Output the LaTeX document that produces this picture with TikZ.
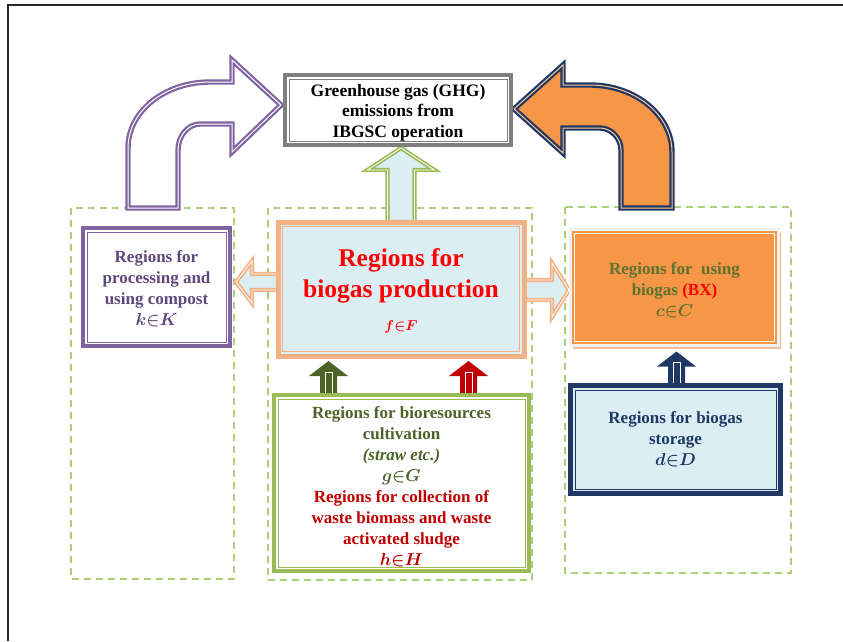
\documentclass[tikz,border=0pt]{standalone}
\usepackage{fontspec}
\setmainfont{Liberation Serif}
\usetikzlibrary{shadows}
\pgfdeclarelayer{bg}
\pgfsetlayers{bg,main}
\definecolor{purp}{HTML}{8064A2}
\definecolor{purptext}{HTML}{5F497A}
\definecolor{ghggray}{HTML}{7F7F7F}
\definecolor{peach}{HTML}{F4B183}
\definecolor{lblue}{HTML}{DBEEF4}
\definecolor{orng}{HTML}{F79646}
\definecolor{navy}{HTML}{1F3864}
\definecolor{olgreen}{HTML}{9BBB59}
\definecolor{dkgreen}{HTML}{4F6228}
\definecolor{dkred}{HTML}{C00000}
\definecolor{dashgreen}{HTML}{AECF7A}
\definecolor{usetext}{HTML}{5B7330}
\newcommand{\inframe}[3]{\draw[#2, line width=0.9] ([shift={(#3,#3)}]#1.north west) rectangle ([shift={(-#3,-#3)}]#1.south east);}
\newcommand{\smallup}[2]{%
  \fill[#2] #1 -- ++(0,-21) -- ++(-11,0) -- ++(19.5,-15) -- ++(19.5,15) -- ++(-11,0) -- ++(0,21) -- cycle;
  \draw[white, line width=0.7] #1 ++(5,0) -- ++(0,-25) -- ++(7,0) -- ++(0,25);}
\newcommand{\mel}[2]{$#1{\in}#2$}
\begin{document}
\begin{tikzpicture}[x=1pt,y=-1pt,
  every node/.style={inner sep=0pt, outer sep=0pt, align=center},
  dashbox/.style={draw=dashgreen, line width=1.5, dash pattern=on 7pt off 5pt},
  curvearrow/.style n args={3}{draw=#1, fill=#2, double=#3, line width=2.2, double distance=1, line join=miter},
  blockarrow/.style={draw=#1, fill=lblue, double=white, line width=1.7, double distance=0.8},
  txt/.style={font=\bfseries\boldmath\fontsize{17}{21}\selectfont}]
\useasboundingbox (0,0) rectangle (843,641);

% boxes with their texts
\node[draw=ghggray, line width=4, fill=white, minimum width=226, minimum height=70,
      label={[font=\bfseries\fontsize{17.5}{20.5}\selectfont, yshift=-2.5pt]center:{Greenhouse gas (GHG)\\emissions from\\IBGSC operation}}] (ghg) at (398,110) {};
\inframe{ghg}{ghggray}{4}

\node[draw=purp, line width=4, fill=white, minimum width=147, minimum height=118,
      label={[txt, text=purptext, yshift=-2pt]center:{Regions for\\processing and\\using compost\\\mel{k}{K}}}] (comp) at (156.5,287) {};
\inframe{comp}{purp}{4}

\node[draw=peach, line width=5, fill=lblue, minimum width=246, minimum height=134,
      label={[font=\bfseries\boldmath\fontsize{25.5}{31}\selectfont, text=red, yshift=-2pt]center:{Regions for\\biogas production\\[2pt]{\fontsize{15}{18}\selectfont\mel{f}{F}}}}] (prod) at (401,289) {};
\inframe{prod}{peach}{4.5}

\node[draw=gray!12, line width=3, fill=orng, minimum width=208, minimum height=116,
      drop shadow={shadow xshift=2pt, shadow yshift=-3pt, fill=peach!70!brown, opacity=0.7},
      label={[txt, text=usetext, yshift=-3pt]center:{Regions for\ \ using\\biogas {\color{red}(BX)}\\\mel{c}{C}}}] (use) at (674.5,287.5) {};
\inframe{use}{white}{4}

\node[draw=navy, line width=5, fill=lblue, minimum width=210, minimum height=108,
      drop shadow={shadow xshift=2pt, shadow yshift=-2pt, fill=gray, opacity=0.4},
      label={[txt, text=navy]center:{Regions for biogas\\storage\\\mel{d}{D}}}] (store) at (675.5,439.5) {};
\inframe{store}{navy}{4.5}

\node[draw=olgreen, line width=4, fill=white, minimum width=255, minimum height=176,
      label={[txt, text=dkgreen, yshift=-4pt]center:{Regions for bioresources\\cultivation\\\textit{(straw etc.)}\\\mel{g}{G}\\\color{dkred}Regions for collection of\\\color{dkred}waste biomass and waste\\\color{dkred}activated sludge\\\color{dkred}\mel{h}{H}}}] (bio) at (401.5,483) {};
\inframe{bio}{olgreen}{4}

\begin{pgfonlayer}{bg}
  % outer frame
  \coordinate (fa) at (7.5,641);
  \coordinate (fb) at (7.5,4.5);
  \coordinate (fc) at (843,4.5);
  \draw[line width=2, black!85] (fa) -- (fb) -- (fc);
  % dashed regions
  \draw[dashbox] (71,208) rectangle (234,579);
  \draw[dashbox] (268,208) rectangle (532,580);
  \draw[dashbox] (565,207) rectangle (791,573);
  % curved arrows
  \draw[curvearrow={purp}{white}{white}, drop shadow={shadow xshift=2pt, shadow yshift=-2pt, fill=olgreen!60, opacity=0.5}]
    (128,208) -- (128,148) .. controls (128,111) and (165,82) .. (210,82) -- (232,82) -- (232,60)
    -- ([shift={(-4,-5)}]ghg.west) -- (232,152) -- (232,124) -- (200,124)
    .. controls (188,124) and (178,136) .. (178,150) -- (178,208) -- cycle;
  \draw[curvearrow={navy}{orng}{orng!55!white}, drop shadow={shadow xshift=2pt, shadow yshift=-2pt, fill=olgreen!60, opacity=0.5}]
    (672,208) -- (672,152) .. controls (672,115) and (635,85) .. (590,85) -- (563,85) -- (563,65)
    -- ([shift={(3,-1)}]ghg.east) -- (563,153) -- (563,128) -- (600,128)
    .. controls (611,128) and (621,138) .. (621,150) -- (621,208) -- cycle;
  % block arrows
  \draw[blockarrow=olgreen] ([xshift=-13.5pt]prod.north) -- ++(0,-52) -- ++(-20,0) -- ++(33.5,-22)
    -- ++(33.5,22) -- ++(-20,0) -- ++(0,52) -- cycle;
  \draw[blockarrow=peach] ([shift={(0,-15)}]prod.west) -- ++(-26,0) -- ++(0,-13) -- ++(-16,21)
    -- ++(16,21) -- ++(0,-13) -- ++(26,0) -- cycle;
  \draw[blockarrow=peach] ([shift={(0,-9)}]prod.east) -- ++(28,0) -- ++(0,-17) -- ++(17,27)
    -- ++(-17,27) -- ++(0,-17) -- ++(-28,0) -- cycle;
  % small arrows
  \smallup{([shift={(-81.5,2)}]bio.north)}{dkgreen}
  \smallup{([shift={(58.5,2)}]bio.north)}{dkred}
  \smallup{([shift={(-7.5,2)}]store.north)}{navy}
\end{pgfonlayer}
\end{tikzpicture}
\end{document}
